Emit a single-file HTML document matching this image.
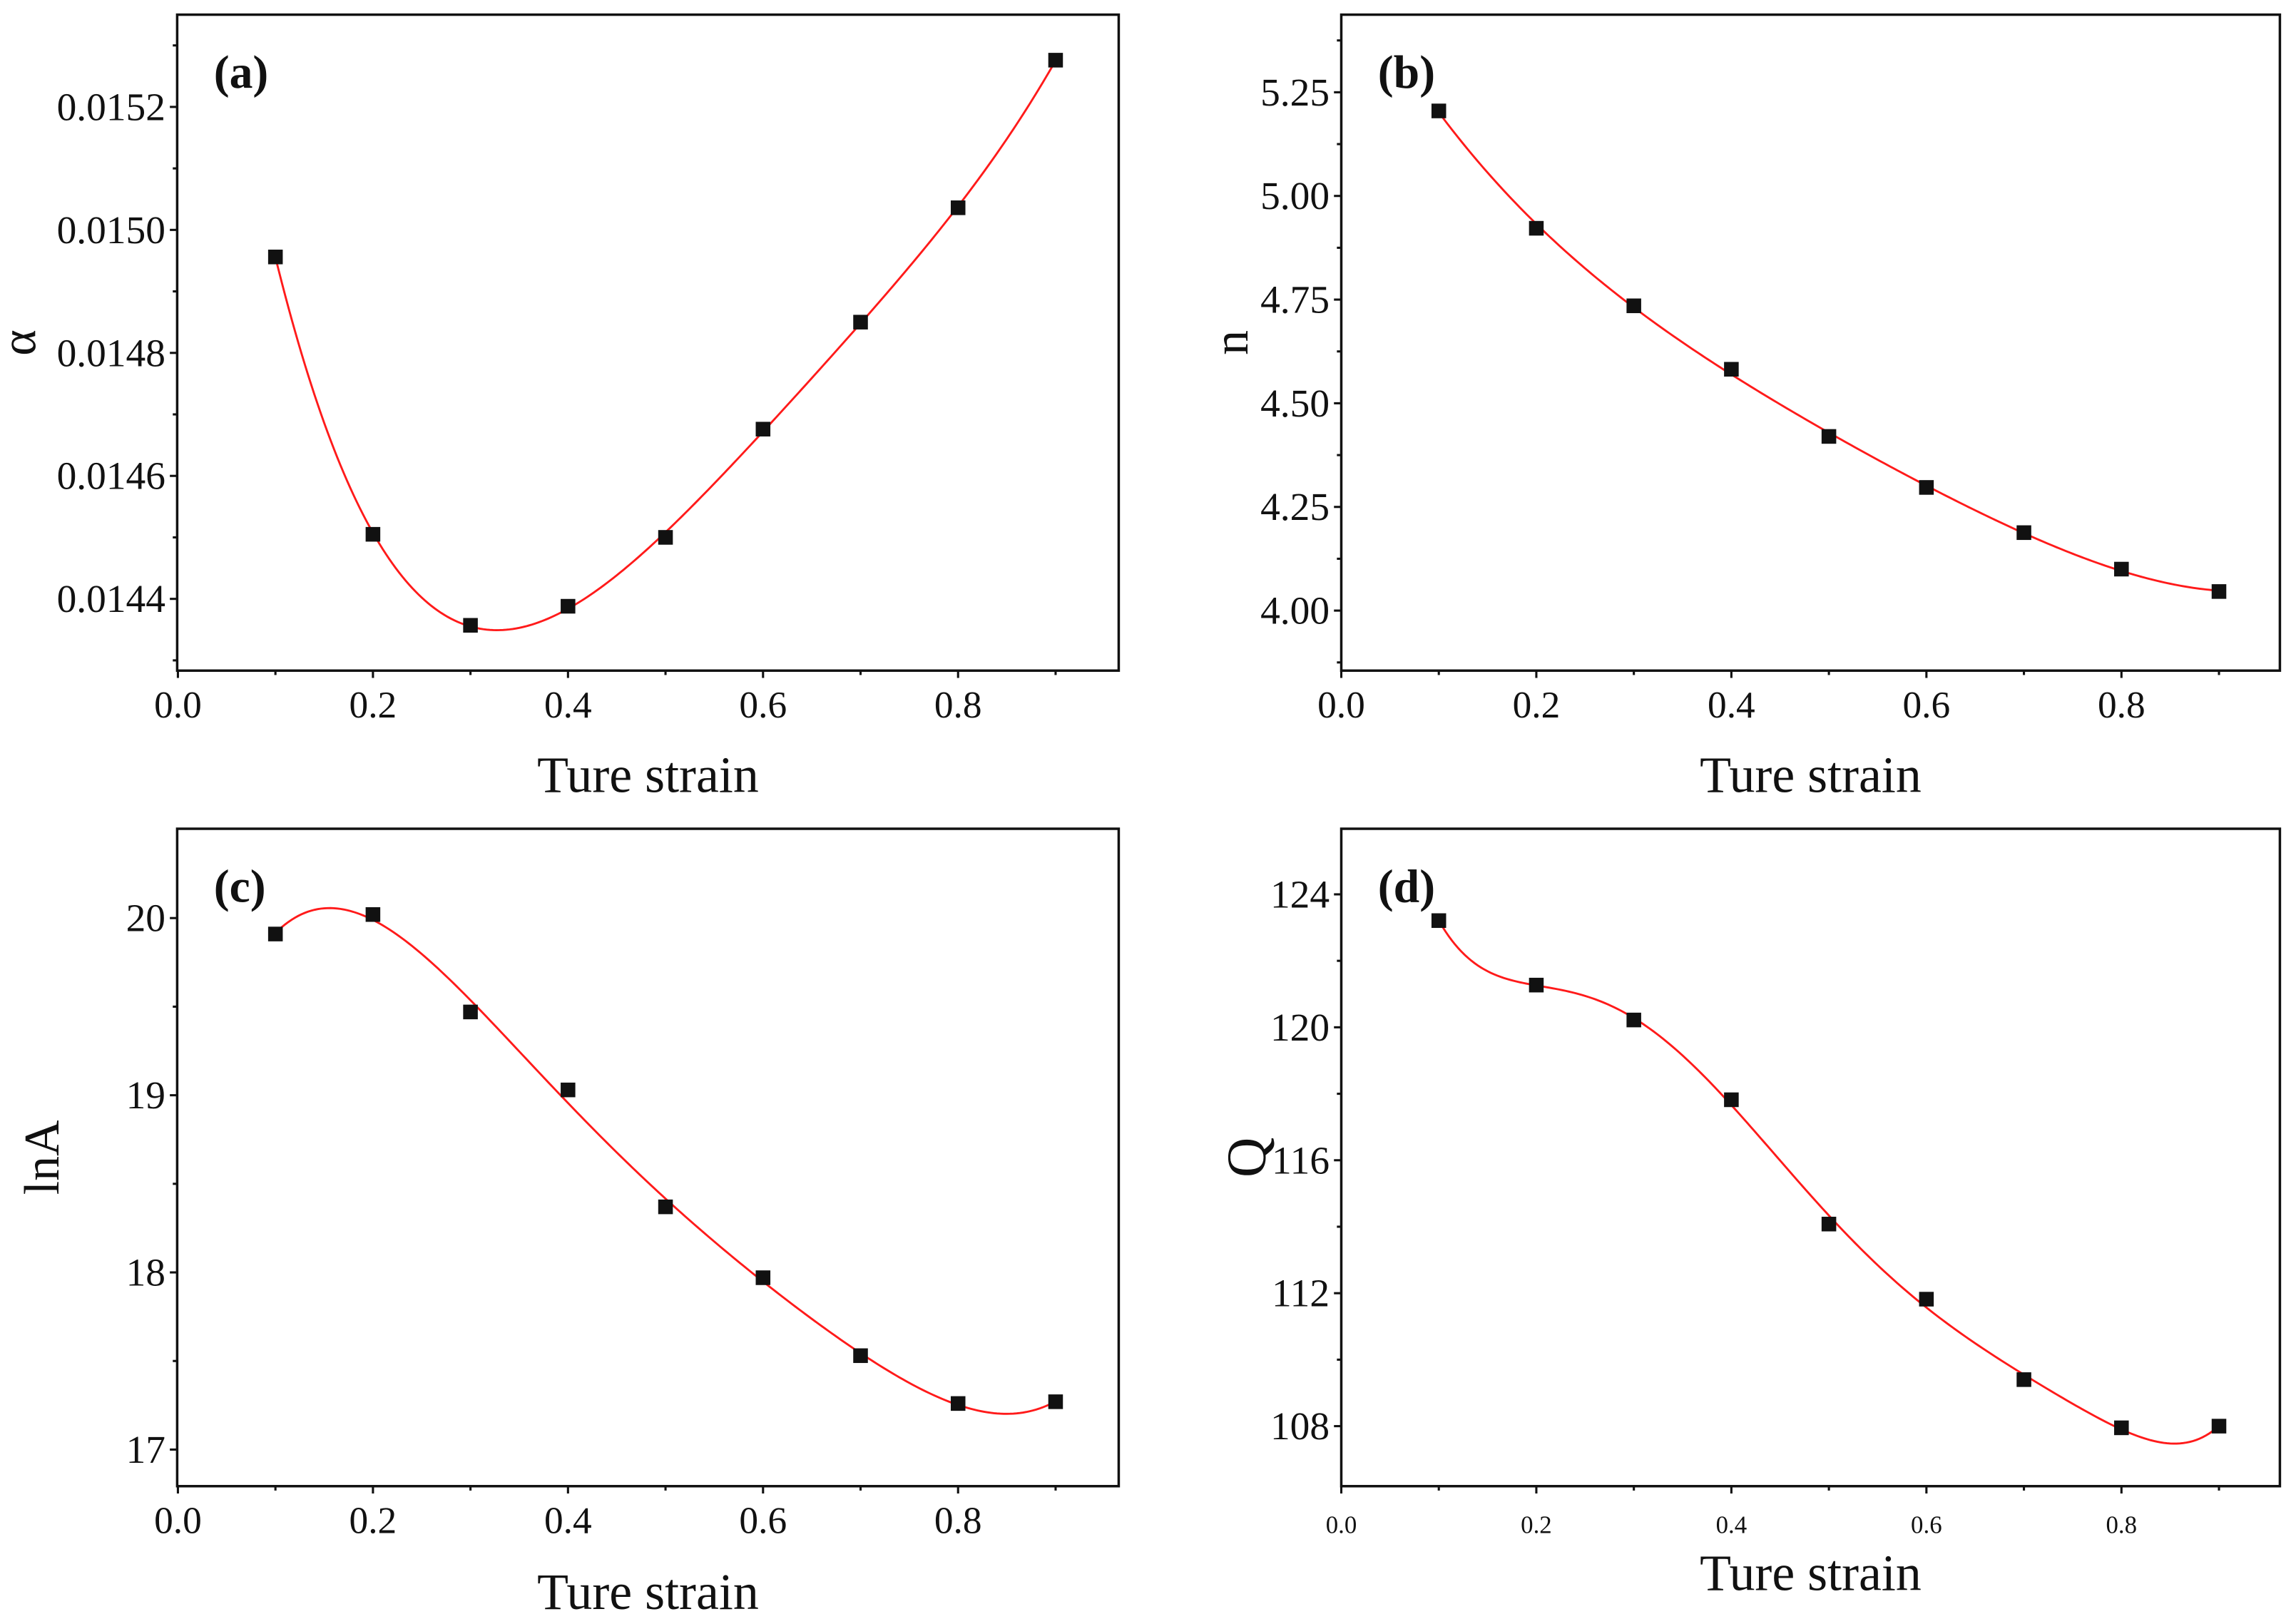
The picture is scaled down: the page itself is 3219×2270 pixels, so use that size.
<!DOCTYPE html>
<html><head><meta charset="utf-8"><style>
html,body{margin:0;padding:0;background:#fff;}
svg{display:block;}
text{font-family:"Liberation Serif",serif;fill:#111;}
</style></head><body>
<svg id="chart" width="3219" height="2270" viewBox="0 0 1568 1105.7" xmlns="http://www.w3.org/2000/svg"></svg>
<script>
// shared x data
const strainX = [0.1,0.2,0.3,0.4,0.5,0.6,0.7,0.8,0.9];
const xTickValues = [0.0,0.2,0.4,0.6,0.8];
const xTickLabels = ["0.0","0.2","0.4","0.6","0.8"];
// panel a
const alphaValues = [0.014956,0.014505,0.014357,0.014388,0.014500,0.014676,0.014850,0.015036,0.015276];
const alphaTicks = [0.0144,0.0146,0.0148,0.0150,0.0152];
const alphaTickLabels = ["0.0144","0.0146","0.0148","0.0150","0.0152"];
// panel b
const nValues = [5.205,4.922,4.735,4.582,4.420,4.297,4.188,4.100,4.046];
const nTicks = [4.00,4.25,4.50,4.75,5.00,5.25];
const nTickLabels = ["4.00","4.25","4.50","4.75","5.00","5.25"];
// panel c
const lnAValues = [19.91,20.02,19.47,19.03,18.37,17.97,17.53,17.26,17.27];
const lnATicks = [17,18,19,20];
const lnATickLabels = ["17","18","19","20"];
// panel d
const qValues = [123.21,121.27,120.22,117.82,114.08,111.82,109.40,107.95,108.0];
const qTicks = [108,112,116,120,124];
const qTickLabels = ["108","112","116","120","124"];

const NS="http://www.w3.org/2000/svg";
const svg=document.getElementById('chart');
function mk(tag,attrs,parent){const e=document.createElementNS(NS,tag);for(const k in attrs)e.setAttribute(k,attrs[k]);(parent||svg).appendChild(e);return e;}

function polyfit(xs,ys,deg){
  const n=deg+1;const A=[];const b=[];
  for(let i=0;i<n;i++){A.push(new Array(n).fill(0));b.push(0);}
  xs.forEach((x,k)=>{const t=(x-0.5)/0.4;for(let i=0;i<n;i++){b[i]+=ys[k]*Math.pow(t,i);for(let j=0;j<n;j++)A[i][j]+=Math.pow(t,i+j);}});
  for(let i=0;i<n;i++){let p=i;for(let r=i+1;r<n;r++)if(Math.abs(A[r][i])>Math.abs(A[p][i]))p=r;[A[i],A[p]]=[A[p],A[i]];[b[i],b[p]]=[b[p],b[i]];
    for(let r=i+1;r<n;r++){const f=A[r][i]/A[i][i];for(let c=i;c<n;c++)A[r][c]-=f*A[i][c];b[r]-=f*b[i];}}
  const c=new Array(n).fill(0);
  for(let i=n-1;i>=0;i--){let s=b[i];for(let j=i+1;j<n;j++)s-=A[i][j]*c[j];c[i]=s/A[i][i];}
  return x=>{const t=(x-0.5)/0.4;let s=0;for(let i=0;i<n;i++)s+=c[i]*Math.pow(t,i);return s;};
}

function panel(cfg){
  const g=mk('g',{});
  
  
  const L=cfg.left,R=cfg.right,T=cfg.top,B=cfg.bottom;
  const xs=v=>cfg.x0+v*666;
  const ys=v=>cfg.yRef-(v-cfg.yRefVal)*cfg.yPer;
  const frame=mk('rect',{x:L,y:T,width:R-L,height:B-T,fill:'none',stroke:'#111','stroke-width':1.7},g);
  
  
  for(let i=0;i<=9;i++){const v=i/10;const x=xs(v);if(x>R)break;
    const major=i%2===0;
    mk('line',{x1:x,y1:B,x2:x,y2:B+(major?5:3),stroke:'#111','stroke-width':1.5},g);}
  xTickValues.forEach((v,i)=>{const t=mk('text',{x:xs(v),y:B+32,'text-anchor':'middle','font-size':cfg.xFont},g);t.textContent=xTickLabels[i];
    
    });
  const step=cfg.yTicks[1]-cfg.yTicks[0];
  for(let k=-2;k<cfg.yTicks.length*2+2;k++){const v=cfg.yTicks[0]+k*step/2;const y=ys(v);if(y<T+1||y>B-1)continue;
    const major=k%2===0;
    mk('line',{x1:L,y1:y,x2:L-(major?5:3),y2:y,stroke:'#111','stroke-width':1.5},g);}
  cfg.yTicks.forEach((v,i)=>{const t=mk('text',{x:L-8,y:ys(v)+9,'text-anchor':'end','font-size':27},g);t.textContent=cfg.yLabels[i];
    
    });
  const xt=mk('text',{x:(L+R)/2,y:cfg.xTitleY,'text-anchor':'middle','font-size':35},g);xt.textContent='Ture strain';
  
  
  const yt=mk('text',{x:0,y:0,'text-anchor':'middle','font-size':cfg.yTitleFont,transform:`translate(${cfg.yTitleX},${(T+B)/2}) rotate(-90)`},g);yt.textContent=cfg.yTitle;
  
  
  const pl=mk('text',{x:L+25,y:T+50,'font-size':32,'font-weight':'bold'},g);pl.textContent='('+cfg.id+')';
  
  
  const f=polyfit(strainX,cfg.values,cfg.deg);
  let d='';for(let i=0;i<=240;i++){const v=0.1+0.8*i/240;d+=(i?'L':'M')+xs(v).toFixed(2)+','+ys(f(v)).toFixed(2);}
  const path=mk('path',{d:d,fill:'none',stroke:'#ff1a1a','stroke-width':1.4},g);
  
  
  cfg.values.forEach((v,i)=>{const r=mk('rect',{x:xs(strainX[i])-5,y:ys(v)-5,width:10,height:10,fill:'#111'},g);
    
    });
}

panel({id:'a',left:121,right:764,top:10,bottom:458,x0:121.5,yRef:409,yRefVal:0.0144,yPer:84/0.0002,
  yTicks:alphaTicks,yLabels:alphaTickLabels,values:alphaValues,deg:5,yTitle:'α',yTitleX:24,yTitleFont:34,xTitleY:541,xFont:26});
panel({id:'b',left:916,right:1557,top:10,bottom:458,x0:916,yRef:417,yRefVal:4.0,yPer:283.2,
  yTicks:nTicks,yLabels:nTickLabels,values:nValues,deg:4,yTitle:'n',yTitleX:852,yTitleFont:34,xTitleY:541,xFont:26});
panel({id:'c',left:121,right:764,top:566,bottom:1015,x0:121.5,yRef:990,yRefVal:17,yPer:121,
  yTicks:lnATicks,yLabels:lnATickLabels,values:lnAValues,deg:5,yTitle:'lnA',yTitleX:40,yTitleFont:34,xTitleY:1099,xFont:26});
panel({id:'d',left:916,right:1557,top:566,bottom:1015,x0:916,yRef:974,yRefVal:108,yPer:22.7,
  yTicks:qTicks,yLabels:qTickLabels,values:qValues,deg:6,yTitle:'Q',yTitleX:864,yTitleFont:38,xTitleY:1086,xFont:17});
</script>
</body></html>
